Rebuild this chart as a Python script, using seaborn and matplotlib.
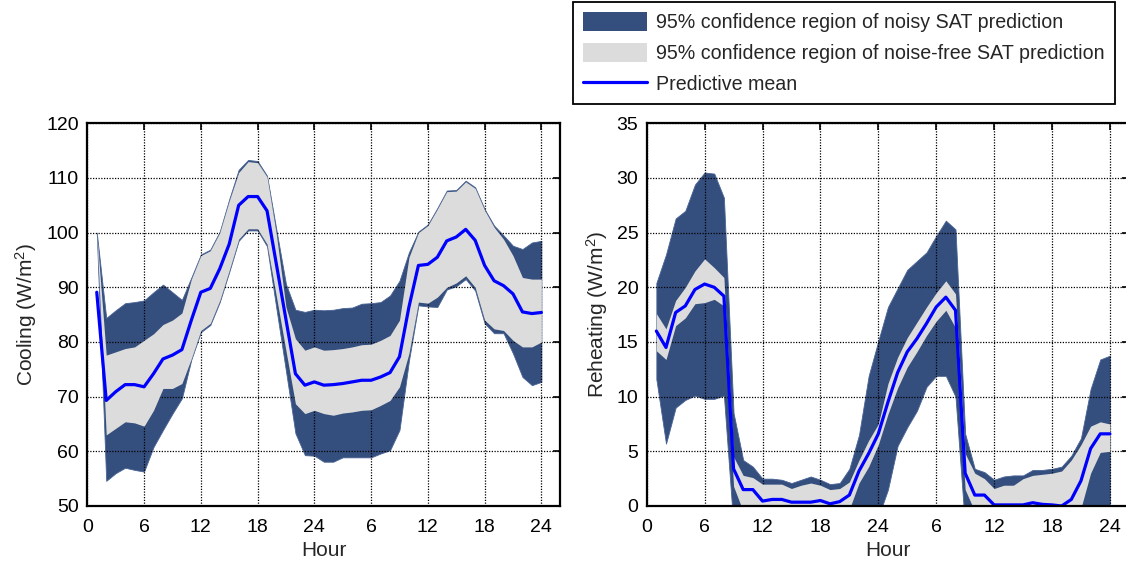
import numpy as np
import pandas as pd
import matplotlib
matplotlib.use("Agg")
import matplotlib.pyplot as plt
import seaborn as sns
from matplotlib.patches import Patch
from matplotlib.lines import Line2D

# ---------------- data ----------------
hours = list(range(1, 49))
xtick_pos = [0, 6, 12, 18, 24, 30, 36, 42, 48]
xtick_labels = ["0", "6", "12", "18", "24", "6", "12", "18", "24"]

# Cooling panel
cool_mean = [89.1, 69.3, 70.9, 72.2, 72.2, 71.8, 74.2, 76.9, 77.6, 78.6,
             84.0, 89.1, 89.8, 93.4, 97.9, 105.0, 106.6, 106.6, 104.0, 94.1,
             84.1, 74.2, 72.1, 72.7, 72.1, 72.2, 72.4, 72.7, 73.0, 73.0,
             73.6, 74.4, 77.3, 86.4, 94.0, 94.2, 95.5, 98.5, 99.2, 100.6,
             98.6, 94.0, 91.2, 90.3, 88.8, 85.5, 85.2, 85.4]
cool_free_hi = [100.0, 77.6, 78.2, 78.8, 79.1, 80.3, 81.5, 83.2, 84.0, 85.3,
                91.5, 95.8, 96.7, 100.0, 105.8, 111.0, 113.0, 112.8, 110.2, 99.5,
                86.4, 80.6, 78.5, 79.1, 78.5, 78.6, 78.8, 79.1, 79.5, 79.6,
                80.3, 81.2, 84.0, 95.5, 100.0, 101.3, 104.3, 107.5, 107.6, 109.3,
                108.1, 104.1, 101.0, 98.8, 95.8, 91.8, 91.5, 91.5]
cool_free_lo = [100.0, 63.0, 64.2, 65.4, 65.2, 64.6, 67.5, 71.5, 71.5, 72.4,
                77.0, 82.1, 83.4, 87.6, 93.1, 98.8, 100.7, 100.7, 97.9, 88.2,
                78.4, 68.7, 66.9, 67.5, 66.9, 66.6, 67.0, 67.2, 67.5, 67.6,
                68.4, 69.3, 71.8, 77.9, 87.3, 87.1, 88.2, 90.0, 90.8, 92.1,
                90.0, 84.0, 82.4, 82.1, 80.3, 79.1, 79.1, 80.0]
cool_noisy_hi = [100.0, 84.4, 85.8, 87.1, 87.3, 87.6, 89.1, 90.5, 89.1, 87.7,
                 91.8, 96.0, 96.9, 100.2, 106.1, 111.5, 113.3, 113.1, 110.4, 100.4,
                 90.6, 85.9, 85.5, 85.9, 85.8, 85.9, 86.2, 86.3, 87.0, 87.1,
                 87.3, 88.5, 91.2, 96.4, 100.2, 101.5, 104.5, 107.7, 107.8, 109.5,
                 108.3, 104.3, 101.3, 99.5, 97.6, 97.0, 98.2, 98.5]
cool_noisy_lo = [100.0, 54.6, 56.0, 57.0, 56.6, 56.3, 60.8, 63.9, 66.9, 69.7,
                 76.8, 81.8, 83.1, 87.3, 92.8, 98.5, 100.4, 100.4, 97.5, 86.0,
                 74.7, 63.3, 59.3, 59.2, 58.1, 58.1, 58.9, 58.9, 58.9, 58.9,
                 59.6, 60.2, 63.9, 76.6, 86.7, 86.5, 86.4, 89.6, 90.2, 91.5,
                 89.4, 83.4, 81.6, 81.6, 77.9, 73.6, 72.1, 72.7]

# Reheating panel
heat_mean = [16.0, 14.5, 17.7, 18.3, 19.8, 20.3, 20.0, 19.2, 3.4, 1.5,
             1.5, 0.45, 0.6, 0.6, 0.35, 0.35, 0.35, 0.5, 0.2, 0.4,
             1.0, 3.2, 4.8, 6.6, 9.5, 12.2, 14.1, 15.3, 16.7, 18.2,
             19.1, 17.9, 3.0, 1.0, 1.0, 0.1, 0.1, 0.1, 0.1, 0.3,
             0.15, 0.1, 0.0, 0.6, 2.3, 5.25, 6.6, 6.6]
heat_free_hi = [17.6, 16.2, 18.8, 20.0, 21.5, 22.6, 21.8, 20.9, 4.5, 2.8,
                2.6, 2.0, 2.0, 2.0, 1.6, 1.9, 2.1, 1.9, 1.5, 1.6,
                2.2, 4.2, 6.0, 7.5, 11.2, 13.6, 15.4, 16.8, 18.2, 19.5,
                20.6, 19.4, 4.8, 3.0, 2.5, 1.6, 1.9, 1.9, 2.5, 2.8,
                2.9, 3.0, 3.2, 4.2, 5.6, 7.3, 7.7, 7.5]
heat_free_lo = [14.2, 13.4, 16.5, 17.2, 18.5, 18.6, 18.9, 18.3, 1.8, -0.5,
                -0.5, -1.0, -1.0, -1.0, -1.0, -1.0, -1.0, -1.0, -1.0, -1.0,
                -0.3, 2.1, 3.6, 5.6, 8.4, 10.8, 12.7, 14.1, 15.6, 16.9,
                17.9, 16.3, 1.5, -0.5, -0.5, -1.0, -1.0, -1.0, -1.0, -1.0,
                -1.0, -1.0, -1.0, -1.0, -0.2, 3.0, 4.9, 5.0]
heat_noisy_hi = [20.4, 23.0, 26.3, 27.0, 29.4, 30.5, 30.4, 28.2, 8.5, 4.2,
                 3.6, 2.5, 2.5, 2.4, 2.1, 2.4, 2.7, 2.4, 2.0, 2.1,
                 3.4, 6.5, 11.9, 15.1, 18.2, 19.9, 21.6, 22.4, 23.2, 24.7,
                 26.1, 25.3, 6.6, 3.4, 3.1, 2.4, 2.7, 2.8, 2.8, 3.3,
                 3.3, 3.4, 3.6, 4.6, 6.2, 10.7, 13.4, 13.75]
heat_noisy_lo = [11.6, 5.7, 9.0, 9.7, 10.1, 9.8, 9.8, 10.1, -2.0, -2.0,
                 -2.0, -2.0, -2.0, -2.0, -2.0, -2.0, -2.0, -2.0, -2.0, -2.0,
                 -2.0, -2.0, -2.0, -1.0, 1.5, 5.5, 7.2, 8.7, 10.9, 11.9,
                 11.9, 10.0, -2.0, -2.0, -2.0, -2.0, -2.0, -2.0, -2.0, -2.0,
                 -2.0, -2.0, -2.0, -2.0, -2.0, -2.0, -2.0, -2.0]

legend_labels = ["95% confidence region of noisy SAT prediction",
                 "95% confidence region of noise-free SAT prediction",
                 "Predictive mean"]

# ---------------- style ----------------
sns.set_style("white")
plt.rcParams['font.family'] = ['Liberation Sans', 'DejaVu Sans']
plt.rcParams['mathtext.fontset'] = 'custom'
plt.rcParams['mathtext.rm'] = 'Liberation Sans'
plt.rcParams['mathtext.it'] = 'Liberation Sans:italic'
plt.rcParams['font.size'] = 14

DARK = "#344E7E"
LIGHT = "#DCDCDC"
BLUE = "#0000FF"

fig = plt.figure(figsize=(11.26, 5.64), dpi=100)
W, H = 1126.0, 564.0
ax1 = fig.add_axes([87.3 / W, 1 - 506 / H, 473 / W, (506 - 123.3) / H])
ax2 = fig.add_axes([646.7 / W, 1 - 506 / H, 482.5 / W, (506 - 123.3) / H])


def draw(ax, mean, fhi, flo, nhi, nlo, ylim, yticks, ylabel):
    df = pd.DataFrame({"Hour": hours, "mean": mean})
    ax.fill_between(hours, nlo, nhi, color=DARK, lw=0.6, edgecolor="#4a6494", zorder=2)
    ax.fill_between(hours, flo, fhi, color=LIGHT, lw=0, zorder=3)
    sns.lineplot(data=df, x="Hour", y="mean", ax=ax, color=BLUE, lw=2.3, zorder=4)
    ax.set_xlim(0, 50)
    ax.set_ylim(*ylim)
    ax.set_xticks(xtick_pos)
    ax.set_xticklabels(xtick_labels)
    ax.set_yticks(yticks)
    ax.grid(True, color="black", linestyle=(0, (1, 1.2)), linewidth=0.9, zorder=5)
    ax.set_axisbelow(False)
    for s in ax.spines.values():
        s.set_visible(True)
        s.set_color("black")
        s.set_linewidth(1.6)
        s.set_zorder(6)
    ax.tick_params(direction="in", length=5, width=1.2, top=True, right=True,
                   labelsize=14, colors="black")
    ax.tick_params(axis="x", pad=9)
    ax.tick_params(axis="y", pad=6)
    ax.set_xlabel("Hour", fontsize=15, labelpad=4)
    ax.set_ylabel(ylabel, fontsize=15, labelpad=5)


draw(ax1, cool_mean, cool_free_hi, cool_free_lo, cool_noisy_hi, cool_noisy_lo,
     (50, 120), list(range(50, 121, 10)), "Cooling (W/m$^2$)")
draw(ax2, heat_mean, heat_free_hi, heat_free_lo, heat_noisy_hi, heat_noisy_lo,
     (0, 35), list(range(0, 36, 5)), "Reheating (W/m$^2$)")

handles = [Patch(facecolor=DARK, edgecolor="none"),
           Patch(facecolor=LIGHT, edgecolor="none"),
           Line2D([0], [0], color=BLUE, lw=2.3)]
leg = fig.legend(handles, legend_labels, loc="upper left",
                 bbox_to_anchor=(573 / W, 1 - 2 / H), bbox_transform=fig.transFigure,
                 fontsize=14.1, frameon=True, fancybox=False, framealpha=1,
                 edgecolor="black", borderaxespad=0, borderpad=0.5,
                 handlelength=3.3, handleheight=1.15, handletextpad=0.45,
                 labelspacing=0.55)
leg.get_frame().set_linewidth(1.3)

fig.savefig("out.png", dpi=100)
